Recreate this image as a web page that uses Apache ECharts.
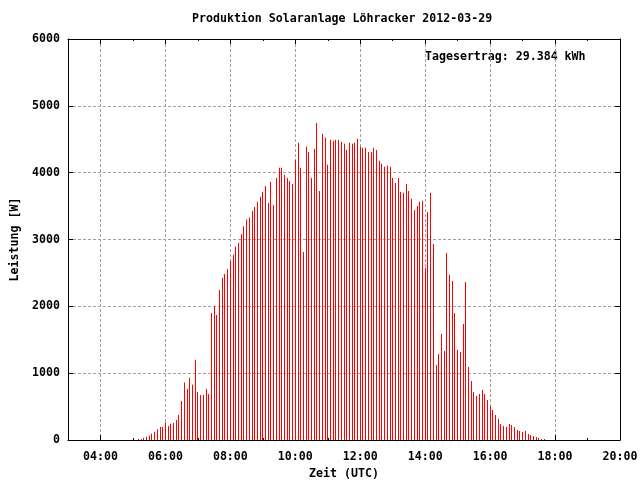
<!DOCTYPE html>
<html>
<head>
<meta charset="utf-8">
<script src="https://cdn.jsdelivr.net/npm/echarts@6/dist/echarts.min.js"></script>
<style>html,body{margin:0;padding:0;background:#fff}#c{width:640px;height:480px}</style>
</head>
<body>
<div id="c"></div>
<script>
// Chart texts
var titleText = 'Produktion Solaranlage Löhracker 2012-03-29';
var annotationText = 'Tagesertrag: 29.384 kWh';
var xAxisName = 'Zeit (UTC)';
var yAxisName = 'Leistung [W]';

// Axis ranges
var axisStart = '03:00';
var axisEnd = '20:00';
var stepMinutes = 5;
var yTicks = [0, 1000, 2000, 3000, 4000, 5000, 6000];

// Measurements: power [W] every 5 minutes starting at firstSample
var firstSample = '05:10';
var power = [
  15, 15, 35, 50, 65, 95, 125, 160, 195, 195,
  265, 210, 245, 255, 300, 375, 585, 860, 765, 930,
  825, 1200, 720, 675, 675, 765, 690, 1900, 2005, 1870,
  2245, 2425, 2485, 2560, 2680, 2770, 2890, 2950, 3080, 3200,
  3300, 3330, 3428, 3488, 3563, 3638, 3713, 3802, 3548, 3862,
  3518, 3922, 4072, 4072, 3967, 3922, 3877, 3832, 4192, 4446,
  4072, 2814, 4386, 4311, 3922, 4356, 4745, 3727, 4581, 4521,
  4117, 4491, 4476, 4491, 4491, 4461, 4431, 4341, 4446, 4431,
  4446, 4506, 4386, 4371, 4371, 4311, 4311, 4371, 4341, 4177,
  4132, 4087, 4102, 4087, 3922, 3847, 3922, 3713, 3698, 3832,
  3727, 3608, 3443, 3503, 3563, 3578, 2575, 3413, 3698, 2934,
  1123, 1287, 1587, 1332, 2799, 2470, 2380, 1901, 1347, 1317,
  1737, 2365, 1093, 883, 719, 659, 689, 749, 689, 599,
  509, 449, 374, 314, 240, 210, 195, 240, 225, 195,
  150, 135, 120, 135, 90, 75, 60, 45, 30, 15,
  15
];

function toMin(s){var p=s.split(':');return (+p[0])*60+(+p[1]);}
function toStr(m){var h=Math.floor(m/60),mm=m%60;return (h<10?'0':'')+h+':'+(mm<10?'0':'')+mm;}

var categories = [];
for (var m = toMin(axisStart); m <= toMin(axisEnd); m += stepMinutes) categories.push(toStr(m));
var off = categories.indexOf(firstSample);
var seriesData = power.map(function(v,i){ return [off+i, v]; });

function isMajor(i, v){ v = v || categories[i]; return /:00$/.test(v) && (toMin(v)/60)%2===0; }
function isMinor(i, v){ v = v || categories[i]; return /:00$/.test(v) && (toMin(v)/60)%2===1; }

var FONT = 'DejaVu Sans Mono';
var FS = 11.6;
var gridLine = {show:true, lineStyle:{color:'#a0a0a0', width:1, type:[3,2]}};

function renderImpulse(params, api){
  var top = api.coord([api.value(0), api.value(1)]);
  var base = api.coord([api.value(0), 0]);
  var x = Math.floor(top[0]);
  return {type:'rect', shape:{x:x, y:top[1], width:1, height:base[1]-top[1]},
          style:{fill:'#ff0000'}};
}

var chart = echarts.init(document.getElementById('c'), null, {renderer:'canvas'});
chart.setOption({
  animation:false,
  backgroundColor:'#ffffff',
  title:{text:titleText, left:192, top:13, padding:0, textStyle:{fontFamily:FONT, fontSize:FS, fontWeight:'bold', color:'#000'}},
  grid:{left:68, right:20, top:39, bottom:40, containLabel:false, outerBoundsMode:'none'},
  xAxis:[
    {type:'category', data:categories, boundaryGap:false, position:'bottom',
     name:xAxisName, nameLocation:'middle', nameGap:28,
     nameTextStyle:{fontFamily:FONT, fontSize:FS, fontWeight:'bold', color:'#000'},
     axisLine:{show:true, lineStyle:{color:'#000', width:1}},
     axisTick:{show:true, inside:true, length:5, interval:isMajor, lineStyle:{color:'#000'}},
     axisLabel:{show:true, interval:isMajor, margin:11, fontFamily:FONT, fontSize:FS, fontWeight:'bold', color:'#000'},
     splitLine:Object.assign({interval:isMajor}, gridLine)},
    {type:'category', data:categories, boundaryGap:false, position:'bottom', gridIndex:0,
     axisLine:{show:false}, axisLabel:{show:false}, splitLine:{show:false},
     axisTick:{show:true, inside:true, length:2, interval:isMinor, lineStyle:{color:'#000'}}},
    {type:'category', data:categories, boundaryGap:false, position:'top',
     axisLine:{show:true, lineStyle:{color:'#000', width:1}}, axisLabel:{show:false}, splitLine:{show:false},
     axisTick:{show:true, inside:true, length:5, interval:isMajor, lineStyle:{color:'#000'}}},
    {type:'category', data:categories, boundaryGap:false, position:'top',
     axisLine:{show:false}, axisLabel:{show:false}, splitLine:{show:false},
     axisTick:{show:true, inside:true, length:2, interval:isMinor, lineStyle:{color:'#000'}}}
  ],
  yAxis:[
    {type:'value', min:yTicks[0], max:yTicks[yTicks.length-1], interval:yTicks[1]-yTicks[0], position:'left',
     name:yAxisName, nameLocation:'middle', nameGap:47, nameRotate:90,
     nameTextStyle:{fontFamily:FONT, fontSize:FS, fontWeight:'bold', color:'#000'},
     axisLine:{show:true, lineStyle:{color:'#000', width:1}},
     axisTick:{show:true, inside:true, length:5, lineStyle:{color:'#000'}},
     axisLabel:{show:true, margin:8, formatter:function(v){return String(v);}, fontFamily:FONT, fontSize:FS, fontWeight:'bold', color:'#000'},
     splitLine:gridLine},
    {type:'value', min:yTicks[0], max:yTicks[yTicks.length-1], interval:yTicks[1]-yTicks[0], position:'right',
     axisLine:{show:true, lineStyle:{color:'#000', width:1}},
     axisTick:{show:true, inside:true, length:5, lineStyle:{color:'#000'}},
     axisLabel:{show:false}, splitLine:{show:false}}
  ],
  graphic:[
    {type:'text', left:425, top:51, style:{text:annotationText, fontFamily:FONT, fontSize:FS, fontWeight:'bold', fill:'#000'}}
  ],
  series:[
    {type:'custom', xAxisIndex:0, yAxisIndex:0, data:seriesData, renderItem:renderImpulse,
     encode:{x:0, y:1}, z:3}
  ]
});
</script>
</body>
</html>
